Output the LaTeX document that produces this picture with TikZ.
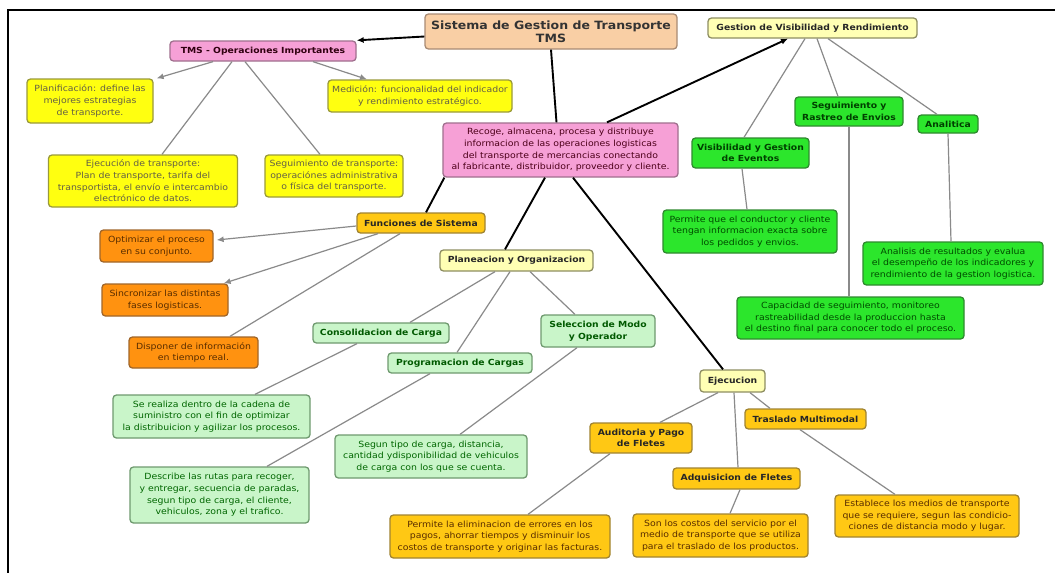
\documentclass[tikz,border=0pt]{standalone}
\usepackage{fontspec}
\setmainfont{DejaVu Sans}[FakeStretch=1.1]
\usetikzlibrary{arrows.meta}

% box palette
\definecolor{peachF}{HTML}{F9CFA5}\definecolor{peachD}{HTML}{A98B74}
\definecolor{pinkF}{HTML}{F6A0D6}\definecolor{pinkD}{HTML}{A0708E}
\definecolor{yelF}{HTML}{FFFF10}\definecolor{yelD}{HTML}{9A9A3A}
\definecolor{lyelF}{HTML}{FFFFB4}\definecolor{lyelD}{HTML}{8E8E62}
\definecolor{grnF}{HTML}{2CE62C}\definecolor{grnD}{HTML}{2F8A2F}
\definecolor{lgrnF}{HTML}{C9F5C9}\definecolor{lgrnD}{HTML}{6F9A6F}
\definecolor{orgF}{HTML}{FF9210}\definecolor{orgD}{HTML}{A0662A}
\definecolor{gldF}{HTML}{FFC814}\definecolor{gldD}{HTML}{A08432}
\definecolor{linkG}{HTML}{8A8A8A}

\tikzset{
  box/.style={draw, rounded corners=3.5pt, line width=1.3pt, align=center,
    inner sep=1pt, font=\fontsize{8.5}{11.6}\selectfont},
  head/.style={box, font=\bfseries\fontsize{8.4}{11.6}\selectfont},
  peachbox/.style={head, fill=peachF, draw=peachD, text=black!80},
  pinkhead/.style={head, fill=pinkF, draw=pinkD, text=black!75!purple},
  pinkbody/.style={box, fill=pinkF, draw=pinkD, text=black!60!purple},
  yelbody/.style={box, fill=yelF, draw=yelD, text=black!70!yellow},
  lyelhead/.style={head, fill=lyelF, draw=lyelD, text=black!85},
  grnhead/.style={head, fill=grnF, draw=grnD, text=black!75!green},
  grnbody/.style={box, fill=grnF, draw=grnD, text=black!70!green},
  lgrnhead/.style={head, fill=lgrnF, draw=lgrnD, text=black!65!green},
  lgrnbody/.style={box, fill=lgrnF, draw=lgrnD, text=black!60!green},
  orgbody/.style={box, fill=orgF, draw=orgD, text=black!65!orange},
  gldhead/.style={head, fill=gldF, draw=gldD, text=black!85},
  gldbody/.style={box, fill=gldF, draw=gldD, text=black!65!orange},
  link/.style={draw=linkG, line width=1.2pt},
  main/.style={draw=black, line width=1.9pt},
  tip/.style={-{Latex[length=7pt,width=6pt]}},
}

\begin{document}
\begin{tikzpicture}[x=1pt,y=-1pt]
\useasboundingbox (0,0) rectangle (1055,573);
\fill[white] (0,0) rectangle (1055,573);
% frame
\draw[line width=2pt] (8,573) -- (8,9.5) -- (1055,9.5);

% ---- nodes ----
\node[peachbox, font=\bfseries\fontsize{11.4}{13.5}\selectfont, minimum width=252pt, minimum height=35pt] (title) at (551,31.5)
  {Sistema de Gestion de Transporte\\TMS};
\node[pinkhead, minimum width=186pt, minimum height=20pt] (tms) at (263,51) {TMS - Operaciones Importantes};
\node[yelbody, minimum width=126pt, minimum height=44pt] (plan) at (90,101)
  {Planificación: define las\\mejores estrategias\\de transporte.};
\node[yelbody, minimum width=184pt, minimum height=32pt] (medic) at (420,96)
  {Medición: funcionalidad del indicador\\y rendimiento estratégico.};
\node[yelbody, minimum width=189pt, minimum height=52pt] (ejtr) at (143,181)
  {Ejecución de transporte:\\Plan de transporte, tarifa del\\transportista, el envío e intercambio\\electrónico de datos.};
\node[yelbody, minimum width=138pt, minimum height=42pt] (segtr) at (334,176)
  {Seguimiento de transporte:\\operaciónes administrativa\\o física del transporte.};
\node[pinkbody, minimum width=235pt, minimum height=54pt] (desc) at (560.5,150)
  {Recoge, almacena, procesa y distribuye\\informacion de las operaciones logisticas\\del transporte de mercancias conectando\\al fabricante, distribuidor, proveedor y cliente.};

\node[lyelhead, minimum width=209pt, minimum height=20pt] (gvr) at (812.5,28) {Gestion de Visibilidad y Rendimiento};
\node[grnhead, minimum width=108pt, minimum height=29pt] (segr) at (849,111.5) {Seguimiento y\\Rastreo de Envios};
\node[grnhead, minimum width=60pt, minimum height=18pt] (anal) at (948,124) {Analitica};
\node[grnhead, minimum width=117pt, minimum height=30pt] (vge) at (750.5,153) {Visibilidad y Gestion\\de Eventos};
\node[grnbody, minimum width=174pt, minimum height=43pt] (perm) at (750,231.5)
  {Permite que el conductor y cliente\\tengan informacion exacta sobre\\los pedidos y envios.};
\node[grnbody, minimum width=180pt, minimum height=43pt] (anres) at (953,263.5)
  {Analisis de resultados y evalua\\el desempeño de los indicadores y\\rendimiento de la gestion logistica.};
\node[grnbody, minimum width=227pt, minimum height=42pt] (capac) at (850.5,318)
  {Capacidad de seguimiento, monitoreo\\rastreabilidad desde la produccion hasta\\el destino final para conocer todo el proceso.};

\node[gldhead, minimum width=128pt, minimum height=20pt] (func) at (421,223) {Funciones de Sistema};
\node[orgbody, minimum width=113pt, minimum height=32pt] (optim) at (156.5,246) {Optimizar el proceso\\en su conjunto.};
\node[orgbody, minimum width=126pt, minimum height=32pt] (sincr) at (165,300) {Sincronizar las distintas\\fases logisticas.};
\node[orgbody, minimum width=129pt, minimum height=31pt] (dispo) at (193.5,352.5) {Disponer de información\\en tiempo real.};

\node[lyelhead, minimum width=153pt, minimum height=21pt] (plane) at (516.5,260.5) {Planeacion y Organizacion};
\node[lgrnhead, minimum width=136pt, minimum height=20pt] (conso) at (381,333) {Consolidacion de Carga};
\node[lgrnhead, minimum width=144pt, minimum height=20pt] (progr) at (460,363) {Programacion de Cargas};
\node[lgrnhead, minimum width=114pt, minimum height=32pt] (selec) at (598,331) {Seleccion de Modo\\y Operador};
\node[lgrnbody, minimum width=197pt, minimum height=43pt] (serea) at (211.5,416.5)
  {Se realiza dentro de la cadena de\\suministro con el fin de optimizar\\la distribuicion y agilizar los procesos.};
\node[lgrnbody, minimum width=179pt, minimum height=56pt] (descr) at (219.5,495)
  {Describe las rutas para recoger,\\y entregar, secuencia de paradas,\\segun tipo de carga, el cliente,\\vehiculos, zona y el trafico.};
\node[lgrnbody, minimum width=192pt, minimum height=43pt] (segun) at (431,456.5)
  {Segun tipo de carga, distancia,\\cantidad ydisponibilidad de vehiculos\\de carga con los que se cuenta.};

\node[lyelhead, minimum width=65pt, minimum height=22pt] (ejec) at (732.5,381) {Ejecucion};
\node[gldhead, minimum width=102pt, minimum height=30pt] (audit) at (641,438) {Auditoria y Pago\\de Fletes};
\node[gldhead, minimum width=121pt, minimum height=20pt] (trasl) at (805.5,419) {Traslado Multimodal};
\node[gldhead, minimum width=127pt, minimum height=21pt] (adqui) at (736.5,478.5) {Adquisicion de Fletes};
\node[gldbody, minimum width=220pt, minimum height=43pt] (perel) at (500,536.5)
  {Permite la eliminacion de errores en los\\pagos, ahorrar tiempos y disminuir los\\costos de transporte y originar las facturas.};
\node[gldbody, minimum width=175pt, minimum height=43pt] (sonlo) at (720.5,535.5)
  {Son los costos del servicio por el\\medio de transporte que se utiliza\\para el traslado de los productos.};
\node[gldbody, minimum width=184pt, minimum height=42pt] (estab) at (927,516)
  {Establece los medios de transporte\\que se requiere, segun las condicio-\\ciones de distancia modo y lugar.};

% ---- main connectors ----
\draw[main, tip] ([yshift=-5pt]title.west) -- (tms.north east);
\draw[main] (title.south) -- ([xshift=-4pt]desc.north);
\draw[main, tip] ([xshift=46.5pt]desc.north) -- ([xshift=-24.5pt]gvr.south);
\draw[main] ([xshift=2pt]desc.south west) -- ([xshift=5pt]func.north);
\draw[main] ([xshift=-15.5pt]desc.south) -- ([xshift=-11.5pt]plane.north);
\draw[main] ([xshift=12.5pt]desc.south) -- ([xshift=-9.5pt]ejec.north);

% ---- secondary connectors ----
\draw[link, tip] ([xshift=-50pt]tms.south) -- ([xshift=3pt]plan.north east);
\draw[link, tip] ([xshift=50pt]tms.south) -- ([xshift=-53pt]medic.north);
\draw[link] ([xshift=-31pt]tms.south) -- ([xshift=19pt]ejtr.north);
\draw[link] ([xshift=-18pt]tms.south) -- ([xshift=-14pt]segtr.north);

\draw[link, tip] ([yshift=-3pt]func.west) -- ([xshift=3pt,yshift=6pt]optim.east);
\draw[link, tip] ([xshift=-43pt]func.south) -- ([xshift=-5pt]sincr.north east);
\draw[link] ([xshift=-21pt]func.south) -- ([xshift=36.5pt]dispo.north);

\draw[link] ([xshift=-21.5pt]plane.south) -- ([xshift=29pt]conso.north);
\draw[link] ([xshift=-6.5pt]plane.south) -- ([xshift=-3pt]progr.north);
\draw[link] ([xshift=13.5pt]plane.south) -- ([xshift=-23pt]selec.north);
\draw[link] ([xshift=-24pt]conso.south) -- ([xshift=43.5pt]serea.north);
\draw[link] ([xshift=-30pt]progr.south) -- ([xshift=47.5pt]descr.north);
\draw[link] ([xshift=-21pt]selec.south) -- ([xshift=29pt]segun.north);

\draw[link] ([xshift=-7.5pt]gvr.south) -- ([xshift=-6.5pt]vge.north);
\draw[link] ([xshift=4.5pt]gvr.south) -- ([xshift=-11pt]segr.north);
\draw[link] ([xshift=15.5pt]gvr.south) -- ([xshift=-11pt]anal.north);
\draw[link] ([xshift=-8.5pt]vge.south) -- ([xshift=-3pt]perm.north);
\draw[link] (segr.south) -- (segr.south |- capac.north);
\draw[link] (anal.south) -- ([xshift=-2pt]anres.north);

\draw[link] ([xshift=-14.5pt]ejec.south) -- ([xshift=19pt]audit.north);
\draw[link] ([xshift=1.5pt]ejec.south) -- ([xshift=1.5pt]adqui.north);
\draw[link] ([xshift=17.5pt]ejec.south) -- ([xshift=-35.5pt]trasl.north);
\draw[link] ([xshift=-31pt]audit.south) -- ([xshift=28pt]perel.north);
\draw[link] ([xshift=3.5pt]adqui.south) -- ([xshift=9.5pt]sonlo.north);
\draw[link] ([xshift=-5.5pt]trasl.south) -- ([xshift=-32pt]estab.north);
\end{tikzpicture}
\end{document}
